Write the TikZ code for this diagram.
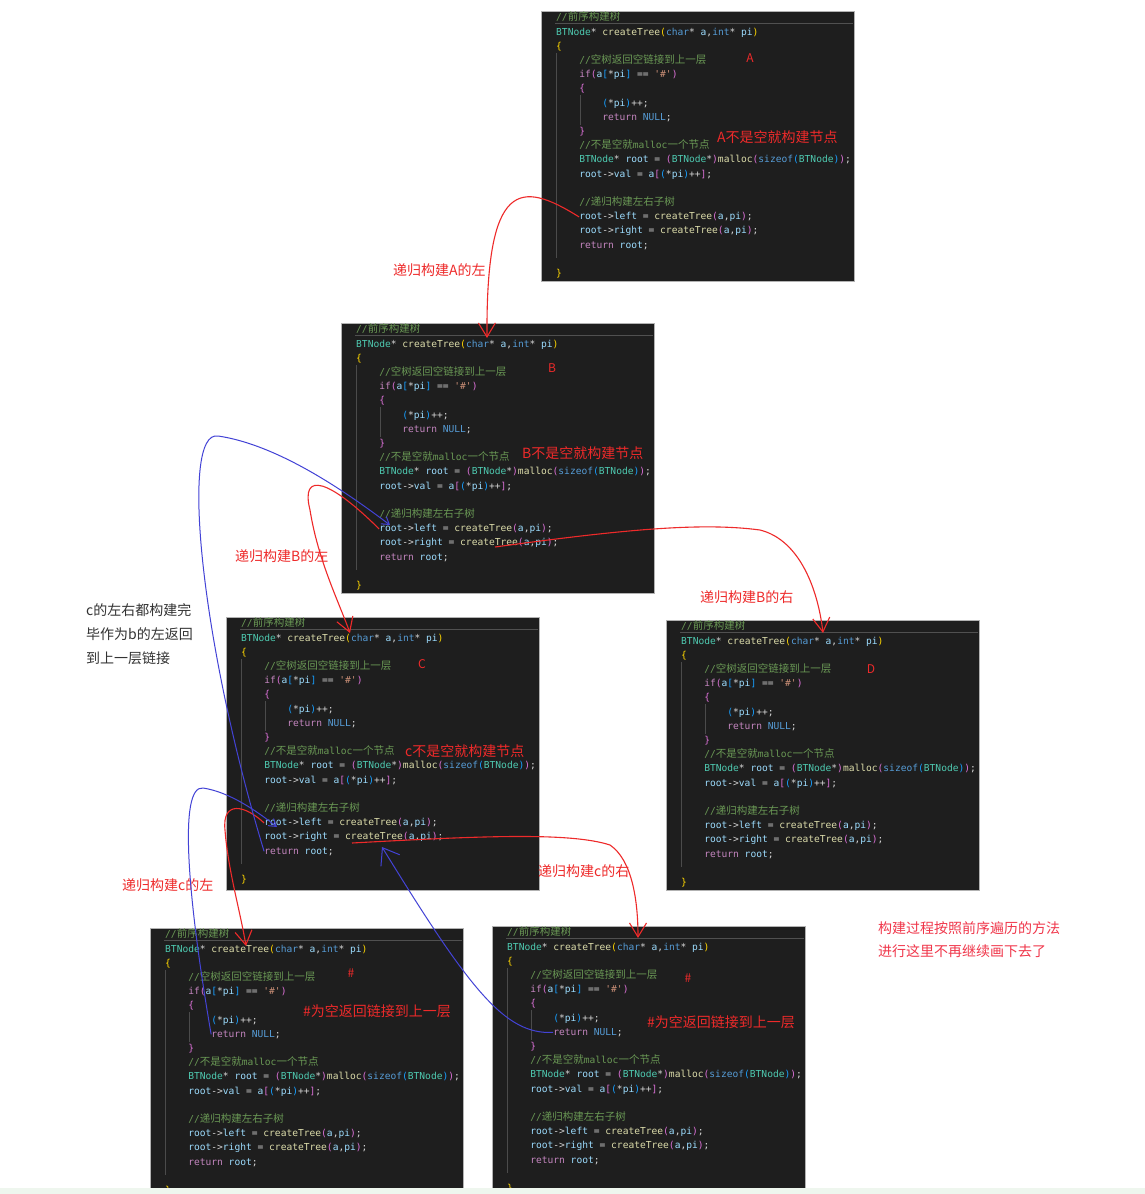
\documentclass[tikz,border=0pt]{standalone}
\usepackage{fontspec}
\setmonofont{DejaVu Sans Mono}
\newfontfamily\cjk{Noto Sans CJK SC}
\usetikzlibrary{arrows.meta}
\definecolor{codebg}{HTML}{1E1E1E}
\definecolor{ccmt}{HTML}{6A9955}
\definecolor{ctyp}{HTML}{4EC9B0}
\definecolor{cfn}{HTML}{DCDCAA}
\definecolor{ckw}{HTML}{569CD6}
\definecolor{cvar}{HTML}{9CDCFE}
\definecolor{cctl}{HTML}{C586C0}
\definecolor{cstr}{HTML}{CE9178}
\definecolor{cop}{HTML}{D4D4D4}
\definecolor{cbra}{HTML}{FFD700}
\definecolor{cbrb}{HTML}{DA70D6}
\definecolor{cbrc}{HTML}{179FFF}
\definecolor{lred}{HTML}{EE2A2A}
\definecolor{lpink}{HTML}{F0364A}
\definecolor{lblue}{HTML}{4343D6}
\definecolor{ltext}{HTML}{333333}
\definecolor{strip}{HTML}{EEF6EE}
\newcommand\xCm[1]{\textcolor{ccmt}{#1}}
\newcommand\xTy[1]{\textcolor{ctyp}{#1}}
\newcommand\xFn[1]{\textcolor{cfn}{#1}}
\newcommand\xKw[1]{\textcolor{ckw}{#1}}
\newcommand\xVa[1]{\textcolor{cvar}{#1}}
\newcommand\xCt[1]{\textcolor{cctl}{#1}}
\newcommand\xSt[1]{\textcolor{cstr}{#1}}
\newcommand\xOp[1]{\textcolor{cop}{#1}}
\newcommand\xBa[1]{\textcolor{cbra}{#1}}
\newcommand\xBb[1]{\textcolor{cbrb}{#1}}
\newcommand\xBc[1]{\textcolor{cbrc}{#1}}
\newcommand\xZh[1]{{\cjk\fontsize{10.5}{11}\selectfont #1}}
\newcommand\codeln[3]{\path (\pn.north west) ++({15+#1*5.77},{9.8+#2*14.2}) node[codeline] (\pn-l#2) {#3};}
\newcommand\codepanel[4]{%
  \node[panel, minimum height=#4] (#1) at (#2,#3) {};
  \def\pn{#1}%
  \draw[hl] (#1.north west) ++(14,12.5) -- ++(298,0);
  \draw[guide] (#1.north west) ++(15.5,42) -- ++(0,205);
  \draw[guide] (#1.north west) ++(39,84) -- ++(0,30);
  \codeln{0}{0}{\xCm{//\xZh{前序构建树}}}
  \codeln{0}{1}{\xTy{BTNode}\xOp{*} \xFn{createTree}\xBa{(}\xKw{char}\xOp{*} \xVa{a}\xOp{,}\xKw{int}\xOp{*} \xVa{pi}\xBa{)}}
  \codeln{0}{2}{\xBa{\{}}
  \codeln{4}{3}{\xCm{//\xZh{空树返回空链接到上一层}}}
  \codeln{4}{4}{\xCt{if}\xBb{(}\xVa{a}\xBc{[}\xOp{*}\xVa{pi}\xBc{]} \xOp{==} \xSt{'\#'}\xBb{)}}
  \codeln{4}{5}{\xBb{\{}}
  \codeln{8}{6}{\xBc{(}\xOp{*}\xVa{pi}\xBc{)}\xOp{++;}}
  \codeln{8}{7}{\xCt{return} \xKw{NULL}\xOp{;}}
  \codeln{4}{8}{\xBb{\}}}
  \codeln{4}{9}{\xCm{//\xZh{不是空就}malloc\xZh{一个节点}}}
  \codeln{4}{10}{\xTy{BTNode}\xOp{*} \xVa{root} \xOp{=} \xBb{(}\xTy{BTNode}\xOp{*}\xBb{)}\xFn{malloc}\xBb{(}\xKw{sizeof}\xBc{(}\xTy{BTNode}\xBc{)}\xBb{)}\xOp{;}}
  \codeln{4}{11}{\xVa{root}\xOp{->}\xVa{val} \xOp{=} \xVa{a}\xBb{[}\xBc{(}\xOp{*}\xVa{pi}\xBc{)}\xOp{++}\xBb{]}\xOp{;}}
  \codeln{4}{13}{\xCm{//\xZh{递归构建左右子树}}}
  \codeln{4}{14}{\xVa{root}\xOp{->}\xVa{left} \xOp{=} \xFn{createTree}\xBb{(}\xVa{a}\xOp{,}\xVa{pi}\xBb{)}\xOp{;}}
  \codeln{4}{15}{\xVa{root}\xOp{->}\xVa{right} \xOp{=} \xFn{createTree}\xBb{(}\xVa{a}\xOp{,}\xVa{pi}\xBb{)}\xOp{;}}
  \codeln{4}{16}{\xCt{return} \xVa{root}\xOp{;}}
  \codeln{0}{18}{\xBa{\}}}
}
\begin{document}
\begin{tikzpicture}[x=1pt,y=-1pt,
  panel/.style={draw=black!30, line width=0.8pt, fill=codebg, minimum width=313, anchor=north west, inner sep=0},
  hl/.style={draw=white!22!codebg, line width=0.6pt},
  guide/.style={draw=white!20!codebg, line width=0.6pt},
  codeline/.style={anchor=base west, inner sep=0, font=\ttfamily\fontsize{9.6}{11}\selectfont},
  plab/.style={text=lred, inner sep=0, font=\cjk\fontsize{12}{14}\selectfont},
  note/.style={text=lred, inner sep=0, anchor=west, font=\cjk\fontsize{14}{16}\selectfont},
  redarr/.style={draw=lred, line width=1.1pt, -{Straight Barb[length=14pt,width=17pt]}},
  bluearr/.style={draw=lblue, line width=1pt, -{Straight Barb[length=7pt,width=9pt]}},
  bigbluearr/.style={draw=lblue, line width=1pt, -{Straight Barb[length=15pt,width=22pt]}}
]
\useasboundingbox (0,0) rectangle (1145,1194);
\fill[white] (0,0) rectangle (1145,1194);

\codepanel{A}{541}{11}{270}
\codepanel{B}{341}{323}{270}
\codepanel{C}{226}{617}{273}
\codepanel{D}{666}{620}{270}
\codepanel{E}{150}{928}{266}
\codepanel{F}{492}{926}{268}

% labels inside panels
\node[plab] (labA) at (750,58) {A};
\node[note] (noteA) at (717,137) {A不是空就构建节点};
\node[plab] (labB) at (552,368) {B};
\node[note] (noteB) at (522,453) {B不是空就构建节点};
\node[plab] (labC) at (422,664) {C};
\node[note] (noteC) at (405,751) {c不是空就构建节点};
\node[plab] (labD) at (871,669) {D};
\node[plab] (labE) at (351,973) {\#};
\node[note] (noteE) at (303,1011) {\#为空返回链接到上一层};
\node[plab] (labF) at (688,978) {\#};
\node[note] (noteF) at (647,1022) {\#为空返回链接到上一层};

% arrow labels
\node[note] (tA) at (393,270) {递归构建A的左};
\node[note] (tBl) at (235,556) {递归构建B的左};
\node[note] (tBr) at (700,597) {递归构建B的右};
\node[note] (tCl) at (122,885) {递归构建c的左};
\node[note] (tCr) at (538,871) {递归构建c的右};

\node[inner sep=0, anchor=west, align=left, text=ltext, font=\cjk\fontsize{14}{24}\selectfont] (side) at (86,634) {c的左右都构建完\\毕作为b的左返回\\到上一层链接};
\node[inner sep=0, anchor=west, align=left, text=lpink, font=\cjk\fontsize{14}{23}\selectfont] (remark) at (878,939.5) {构建过程按照前序遍历的方法\\进行这里不再继续画下去了};

% named targets
\coordinate (inB) at (487,338);
\coordinate (inC) at (350,633);
\coordinate (inD) at (823,633);
\coordinate (inE) at (246,946);
\coordinate (inF) at (638,938);
\coordinate (sB) at (495,547);
\coordinate (sC) at (352,843);
\coordinate (retB) at (390,525);
\coordinate (retCl) at (277,827);
\coordinate (retCr) at (382,847);

% red recursion arrows
\draw[redarr] (A-l14.west) .. controls (520,180) and (486,180) .. (inB);
\draw[redarr] (B-l14.west) .. controls (330,480) and (300,470) .. (310,510) .. controls (318,560) and (338,600) .. (inC);
\draw[redarr] (sB) .. controls (620,530) and (700,522) .. (760,530) .. controls (800,540) and (818,590) .. (inD);
\draw[redarr] (C-l14.west) .. controls (245,805) and (222,800) .. (225,830) .. controls (228,870) and (240,910) .. (inE);
\draw[redarr] (sC) .. controls (480,836) and (570,832) .. (610,845) .. controls (632,860) and (638,900) .. (inF);

% blue return arrows
\draw[bluearr] (C-l16.west) .. controls (200,640) and (180,430) .. (218,436) .. controls (280,445) and (350,495) .. (retB);
\draw[bluearr] (E-l7.west) .. controls (188,900) and (178,785) .. (203,788) .. controls (230,792) and (258,812) .. (retCl);
\draw[bigbluearr] (F-l7.west) .. controls (505,1035) and (470,990) .. (retCr);

% bottom strip
\fill[strip] (0,1188) rectangle (1145,1194);
\end{tikzpicture}
\end{document}
